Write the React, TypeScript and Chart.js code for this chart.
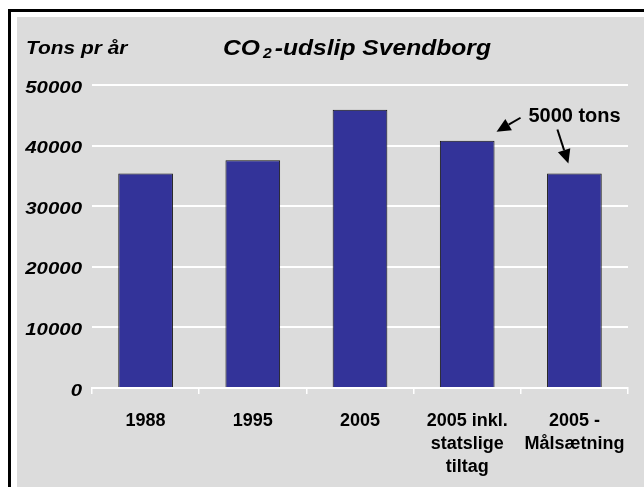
import React, { useEffect, useRef } from "react";
import { Chart, registerables } from "chart.js";

Chart.register(...registerables);

const categories: string[][] = [
  ["1988"],
  ["1995"],
  ["2005"],
  ["2005 inkl.", "statslige", "tiltag"],
  ["2005 -", "Målsætning"],
];
const emissions: number[] = [35400, 37600, 45900, 40800, 35400];
const yTicks: number[] = [0, 10000, 20000, 30000, 40000, 50000];
const yAxisTitle = "Tons pr år";
const titleMain = "CO";
const titleSub = "2";
const titleRest = "-udslip Svendborg";
const annotationText = "5000 tons";

const FONT = '"Liberation Sans", Arial, Helvetica, sans-serif';

function stretchedText(
  ctx: CanvasRenderingContext2D,
  text: string,
  x: number,
  y: number,
  sx: number,
  align: CanvasTextAlign
) {
  ctx.save();
  ctx.translate(x, y);
  ctx.scale(sx, 1);
  ctx.textAlign = align;
  ctx.fillText(text, 0, 0);
  ctx.restore();
}

function drawArrow(ctx: CanvasRenderingContext2D, fx: number, fy: number, tx: number, ty: number) {
  const ang = Math.atan2(ty - fy, tx - fx);
  const headLen = 14;
  const headW = 6.5;
  const bx = tx - headLen * Math.cos(ang);
  const by = ty - headLen * Math.sin(ang);
  ctx.beginPath();
  ctx.moveTo(fx, fy);
  ctx.lineTo(bx, by);
  ctx.lineWidth = 2;
  ctx.strokeStyle = "#000";
  ctx.stroke();
  ctx.beginPath();
  ctx.moveTo(tx, ty);
  ctx.lineTo(bx + headW * Math.sin(ang), by - headW * Math.cos(ang));
  ctx.lineTo(bx - headW * Math.sin(ang), by + headW * Math.cos(ang));
  ctx.closePath();
  ctx.fillStyle = "#000";
  ctx.fill();
}

const decorPlugin = {
  id: "decor",
  afterDraw(chart: any) {
    const ctx: CanvasRenderingContext2D = chart.ctx;
    const area = chart.chartArea;
    const ys = chart.scales.y;
    ctx.save();
    ctx.fillStyle = "#000";
    ctx.textBaseline = "alphabetic";

    // y tick labels (drawn at the scale's tick positions)
    ctx.font = `italic bold 17px ${FONT}`;
    ctx.textBaseline = "middle";
    ys.ticks.forEach((t: any) => {
      stretchedText(ctx, String(t.value), area.left - 10, ys.getPixelForValue(t.value) + 3, 1.2, "right");
    });

    // axis title
    ctx.textBaseline = "alphabetic";
    ctx.font = `italic bold 19px ${FONT}`;
    stretchedText(ctx, yAxisTitle, 9, 37, 1.1, "left");

    // chart title with subscript
    const sx = 1.12;
    const big = `italic bold 22px ${FONT}`;
    const small = `italic bold 14px ${FONT}`;
    ctx.font = big;
    const w1 = ctx.measureText(titleMain).width * sx;
    const w3 = ctx.measureText(titleRest).width * sx;
    ctx.font = small;
    const w2 = ctx.measureText(titleSub).width * sx;
    const gap = 3;
    const total = w1 + gap + w2 + gap + w3;
    let tx = (area.left + area.right) / 2 - 3 - total / 2;
    const base = 38;
    ctx.font = big;
    stretchedText(ctx, titleMain, tx, base, sx, "left");
    tx += w1 + gap;
    ctx.font = small;
    stretchedText(ctx, titleSub, tx, base + 3, sx, "left");
    tx += w2 + gap;
    ctx.font = big;
    stretchedText(ctx, titleRest, tx, base, sx, "left");

    // annotation
    const meta = chart.getDatasetMeta(0);
    const b4 = meta.data[3];
    const b5 = meta.data[4];
    ctx.font = `bold 20px ${FONT}`;
    ctx.textBaseline = "middle";
    ctx.textAlign = "left";
    ctx.fillText(annotationText, b5.x - 46, ys.getPixelForValue(45000) + 1);

    const t1x = b4.x + b4.width / 2 + 2;
    const t1y = b4.y - 9;
    drawArrow(ctx, t1x + 24, t1y - 14, t1x, t1y);
    const t2x = b5.x - 6;
    const t2y = b5.y - 10;
    drawArrow(ctx, t2x - 11, t2y - 34, t2x, t2y);
    ctx.restore();
  },
};

export default function App() {
  const ref = useRef<HTMLCanvasElement | null>(null);

  useEffect(() => {
    if (!ref.current) return;
    const chart = new Chart(ref.current, {
      type: "bar",
      data: {
        labels: categories,
        datasets: [
          {
            data: emissions,
            backgroundColor: "#333399",
            borderColor: "#111111",
            borderWidth: 1,
            barPercentage: 0.51,
            categoryPercentage: 1,
          },
        ],
      },
      options: {
        responsive: false,
        animation: false,
        layout: { padding: { top: 68, right: 16, left: 0, bottom: 0 } },
        plugins: {
          legend: { display: false },
          tooltip: { enabled: false },
          title: { display: false },
        },
        scales: {
          x: {
            grid: {
              offset: true,
              drawOnChartArea: false,
              drawTicks: true,
              tickLength: 6,
              color: "#ffffff",
              lineWidth: 1.5,
            },
            border: { display: true, color: "#ffffff", width: 2 },
            ticks: {
              color: "#000",
              font: { family: FONT, size: 18, weight: "bold", lineHeight: 1.3 },
              padding: 15,
              maxRotation: 0,
              autoSkip: false,
            },
            afterFit: (s: any) => {
              s.height = 99;
            },
          },
          y: {
            min: 0,
            max: 50000,
            afterBuildTicks: (s: any) => {
              s.ticks = yTicks.map((v) => ({ value: v }));
            },
            ticks: { display: false },
            grid: { color: "#ffffff", lineWidth: 2, drawTicks: false },
            border: { display: false },
            afterFit: (s: any) => {
              s.width = 75;
            },
          },
        },
      },
      plugins: [decorPlugin],
    });
    return () => chart.destroy();
  }, []);

  return (
    <div style={{ position: "fixed", left: 0, top: 0, width: 644, height: 487, overflow: "hidden", background: "#fff" }}>
      <div
        style={{
          position: "absolute",
          left: 8,
          top: 9,
          width: 636,
          height: 478,
          borderLeft: "3px solid #000",
          borderTop: "3px solid #000",
          boxSizing: "border-box",
          background: "#fff",
        }}
      />
      <div style={{ position: "absolute", left: 17, top: 17, width: 627, height: 470, background: "#dcdcdc" }}>
        <canvas ref={ref} width={627} height={470} style={{ display: "block" }} />
      </div>
    </div>
  );
}
